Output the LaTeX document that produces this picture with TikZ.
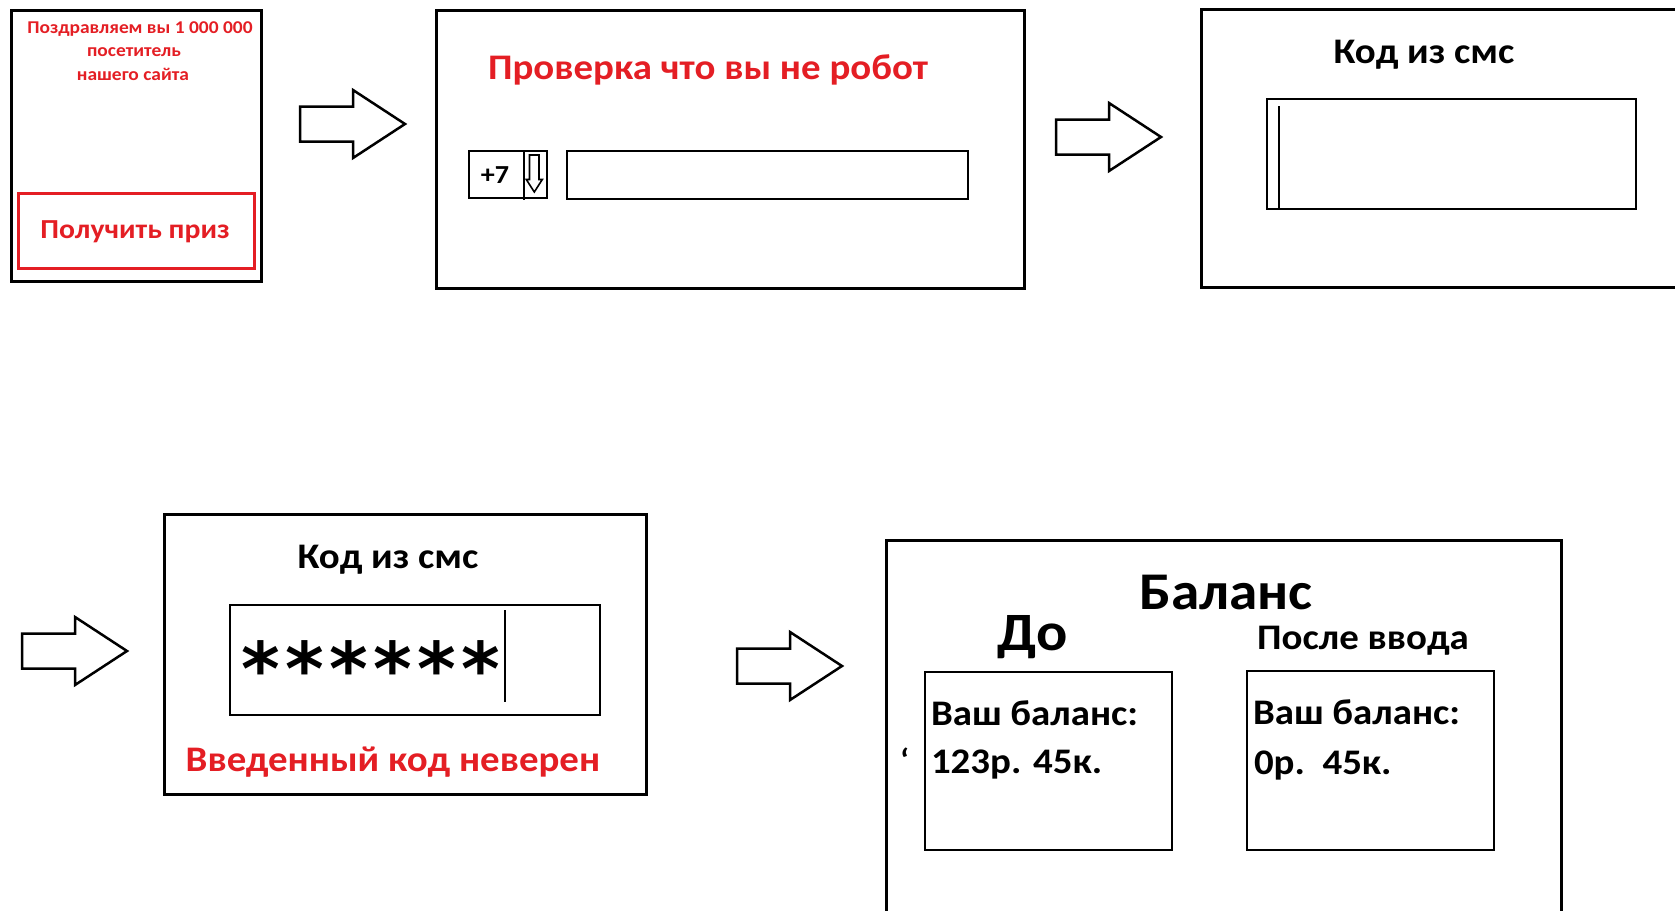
\documentclass[tikz,border=0pt]{standalone}
\usepackage{fontspec}
\setmainfont{Carlito}[FakeStretch=1.08]
\newfontfamily\starfont{DejaVu Sans}
\definecolor{scamred}{RGB}{228,30,36}
\tikzset{
  frame/.style={draw=black, line width=3pt, inner sep=0pt, outer sep=0pt, anchor=north west},
  redbtn/.style={draw=scamred, line width=3pt, inner sep=0pt, outer sep=0pt, anchor=north west},
  field/.style={draw=black, line width=2.6pt, inner sep=0pt, outer sep=0pt, anchor=north west},
  lbl/.style={inner sep=0pt, outer sep=0pt, font=\bfseries},
  bigarrow/.style={draw=black, line width=2.5pt, line join=miter, fill=white},
  blockarrow/.pic={\draw[bigarrow] (0,-17.5) -- (53,-17.5) -- (53,-34) -- (105,0) -- (53,34) -- (53,17.5) -- (0,17.5) -- cycle;},
}
\newcommand{\stk}{\kern5.3pt}
\begin{document}
\begin{tikzpicture}[x=1pt,y=-1pt]
\useasboundingbox (0,0) rectangle (1675,910);
\clip (0,0) rectangle (1675,910);
\fill[white] (0,0) rectangle (1675,910);

% ---- screen 1
\node[frame, minimum width=250pt, minimum height=271pt] (s1) at (11,10) {};
\node[lbl, text=scamred, anchor=base] (s1a) at (140,33) {\fontsize{18}{20}\selectfont Поздравляем вы 1 000 000};
\node[lbl, text=scamred, anchor=base] (s1b) at (134,56) {\fontsize{18}{20}\selectfont посетитель};
\node[lbl, text=scamred, anchor=base] (s1c) at (133,80) {\fontsize{18}{20}\selectfont нашего сайта};
\node[redbtn, minimum width=236pt, minimum height=75pt] (btn) at (18,193) {};
\node[lbl, text=scamred, anchor=base] (btnt) at (135,238) {\fontsize{27.5}{32}\selectfont Получить приз};

\pic (a1) at (300,124) {blockarrow};

% ---- screen 2
\node[frame, minimum width=588pt, minimum height=278pt] (s2) at (436,10) {};
\node[lbl, text=scamred, anchor=base] (s2t) at (708,79) {\fontsize{36}{42}\selectfont Проверка что вы не робот};
\node[field, minimum width=78pt, minimum height=47pt] (pfx) at (469,151) {};
\node[lbl, anchor=base] (pfxt) at (495,183) {\fontsize{26}{30}\selectfont +7};
\coordinate (dvt) at (524,151);
\coordinate (dvb) at (524,200);
\draw[line width=2pt] (dvt) -- (dvb);
\draw[line width=1.6pt, line join=miter] (529.5,155) -- (539,155) -- (539,179.5) -- (542.3,179.5) -- (534.3,192) -- (526.3,179.5) -- (529.5,179.5) -- cycle;
\node[field, minimum width=401pt, minimum height=48pt] (phone) at (567,151) {};

\pic (a2) at (1056,137) {blockarrow};

% ---- screen 3
\node[frame, minimum width=520pt, minimum height=278pt] (s3) at (1201,9) {};
\node[lbl, anchor=base] (s3t) at (1424,63) {\fontsize{36}{42}\selectfont Код из смс};
\node[field, minimum width=369pt, minimum height=110pt] (sms) at (1267,99) {};
\draw[line width=2.6pt] (1279,106) -- (1279,209);

% ---- screen 4
\pic (a3) at (22,651) {blockarrow};
\node[frame, minimum width=482pt, minimum height=280pt] (s4) at (164,514) {};
\node[lbl, anchor=base] (s4t) at (388,568) {\fontsize{36}{42}\selectfont Код из смс};
\node[field, minimum width=370pt, minimum height=110pt] (code) at (230,605) {};
\node[lbl, anchor=base] (stars) at (371,695) {\starfont\fontsize{74}{78}\selectfont *\stk*\stk*\stk*\stk*\stk*};
\draw[line width=2.6pt] (505,610) -- (505,702);
\node[lbl, text=scamred, anchor=base] (err) at (393,771) {\fontsize{36}{42}\selectfont Введенный код неверен};

\pic (a4) at (737,666) {blockarrow};

% ---- screen 5
\node[frame, minimum width=675pt, minimum height=400pt] (s5) at (886,540) {};
\node[lbl, anchor=base] (bal) at (1226,609) {\fontsize{53}{60}\selectfont Баланс};
\node[lbl, anchor=base] (before) at (1033,650) {\fontsize{54}{60}\selectfont До};
\node[lbl, anchor=base] (after) at (1363,649) {\fontsize{36}{42}\selectfont После ввода};
\node[field, minimum width=247pt, minimum height=178pt] (bbox) at (925,672) {};
\node[field, minimum width=247pt, minimum height=179pt] (abox) at (1247,671) {};
\node[lbl, anchor=base west] (b1) at (931,725) {\fontsize{36}{42}\selectfont Ваш баланс:};
\node[lbl, anchor=base west] (b2) at (931,773) {\fontsize{36}{42}\selectfont 123р. 45к.};
\node[lbl, anchor=base west] (tick) at (900,771) {\fontsize{32}{38}\selectfont `};
\node[lbl, anchor=base west] (c1) at (1253,724) {\fontsize{36}{42}\selectfont Ваш баланс:};
\node[lbl, anchor=base west] (c2) at (1254,774) {\fontsize{36}{42}\selectfont 0р.\ \ 45к.};
\end{tikzpicture}
\end{document}
